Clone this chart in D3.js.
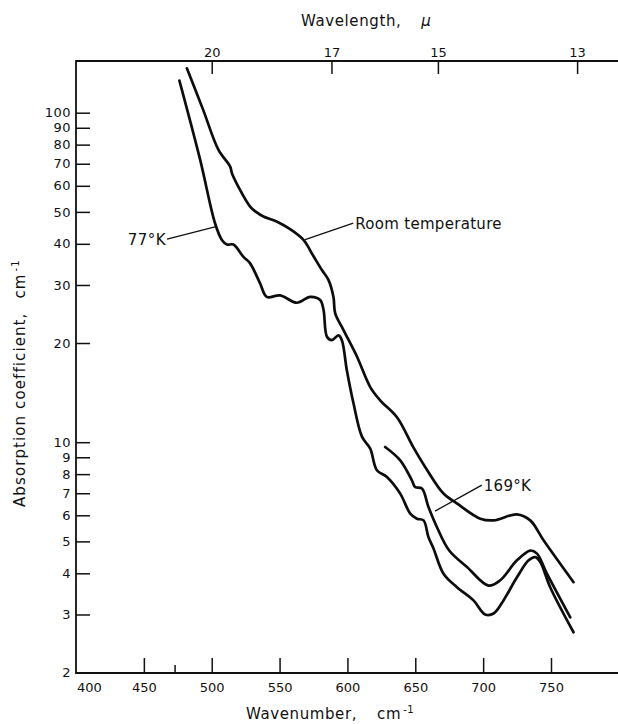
<!DOCTYPE html>
<html>
<head>
<meta charset="utf-8">
<script src="https://cdn.jsdelivr.net/npm/d3@7"></script>
<style>
  html, body { margin: 0; padding: 0; background: #fff; }
  svg { display: block; }
  text { font-family: "DejaVu Sans", sans-serif; fill: #111; }
</style>
</head>
<body>
<svg id="chart" width="618" height="724"></svg>
<script>
// wavenumber (cm-1), absorption coefficient (cm-1)
const roomTemp = [
  [481.7, 136.4], [493.7, 102], [505.0, 77.1], [513.6, 68.6], [515.1, 65.2],
  [528.3, 51.9], [532.7, 50.0], [538.1, 48.4], [548.2, 46.7], [557.8, 44.3],
  [567.6, 41.1], [574.8, 36.8], [581.2, 33.3], [586.0, 31.1], [589.7, 27.6],
  [591.0, 24.6], [597.1, 21.9], [607.0, 18.2], [616.8, 14.7], [624.1, 13.4],
  [636.5, 11.9], [648.5, 9.66], [658.8, 8.22], [670.6, 7.0], [680.9, 6.51],
  [697.9, 5.86], [707.7, 5.79], [724.9, 6.04], [734.7, 5.79], [744.5, 5.04],
  [766.6, 3.76]
];
const temp77 = [
  [476.2, 125.1], [491.5, 71.9], [502.5, 46.1], [507.5, 41.1], [511.2, 39.8],
  [516.0, 39.8], [523.4, 36.5], [528.3, 34.9], [535.7, 30.3], [540.6, 27.6],
  [550.4, 27.9], [562.7, 26.5], [572.5, 27.6], [579.9, 27.0], [582.4, 25.2],
  [584.9, 20.9], [588.5, 20.4], [593.4, 21.1], [595.9, 20.4], [599.6, 16.5],
  [604.5, 13.1], [610.7, 10.4], [616.8, 9.56], [621.7, 8.22], [629.1, 7.84],
  [638.9, 6.98], [646.3, 6.07], [651.2, 5.86], [656.1, 5.79], [659.7, 5.15],
  [663.4, 4.76], [670.8, 3.99], [680.7, 3.63], [692.9, 3.31], [701.5, 3.00],
  [707.7, 3.02], [715.0, 3.31], [724.9, 3.89], [733.5, 4.38], [738.4, 4.48],
  [742.1, 4.33], [749.4, 3.63], [766.6, 2.65]
];
const temp169 = [
  [627.8, 9.67], [638.9, 8.81], [647.5, 7.66], [649.9, 7.31], [654.9, 7.23],
  [659.7, 6.36], [665.9, 5.53], [675.0, 4.69], [688.1, 4.18], [704.0, 3.67],
  [712.6, 3.81], [724.9, 4.38], [734.7, 4.69], [739.7, 4.59], [747.0, 3.99],
  [764.2, 2.94]
];

const wavenumberTicks = [400, 450, 500, 550, 600, 650, 700, 750];
const absTicks = [2, 3, 4, 5, 6, 7, 8, 9, 10, 20, 30, 40, 50, 60, 70, 80, 90, 100];
const wavelengthTicks = [20, 17, 15, 13];

// labels: text, leader from (wavenumber, abs) to (wavenumber, abs)
const labels = [
  { text: '77°K', from: [467.1, 41.3], to: [502.4, 45.0], side: 'left' },
  { text: 'Room temperature', from: [568.8, 41.2], to: [604.3, 46.2], side: 'right' },
  { text: '169°K', from: [664.6, 6.18], to: [699.0, 7.41], side: 'right' }
];

const svg = d3.select('#chart');
const frameL = 76, frameR = 618, frameT = 61, frameB = 673;

const x = d3.scaleLinear().domain([400, 750]).range([76, 551]);
const y = d3.scaleLog().domain([2, 100]).range([672.5, 112.7]);

// frame
svg.append('path')
  .attr('d', `M${frameR},${frameT}H${frameL}V${frameB}H${frameR}`)
  .attr('fill', 'none').attr('stroke', '#111').attr('stroke-width', 1.8);

// left axis (log)
const yAxis = svg.append('g').attr('transform', `translate(${frameL},0)`)
  .call(d3.axisLeft(y).tickValues(absTicks).tickFormat(d3.format('d'))
    .tickSizeInner(-14).tickSizeOuter(0).tickPadding(5));
yAxis.select('.domain').remove();
yAxis.selectAll('line').attr('stroke', '#111').attr('stroke-width', 1.5)
  .filter(d => d === 2).remove();
yAxis.selectAll('text').attr('font-size', 13).attr('letter-spacing', 0.5)
  .style('font-family', '"DejaVu Sans", sans-serif').attr('fill', '#111');

// bottom axis
const xAxis = svg.append('g').attr('transform', `translate(0,${frameB})`)
  .call(d3.axisBottom(x).tickValues(wavenumberTicks).tickFormat(d3.format('d'))
    .tickSizeInner(-15).tickSizeOuter(0).tickPadding(10));
xAxis.select('.domain').remove();
xAxis.selectAll('line').attr('stroke', '#111').attr('stroke-width', 1.5)
  .filter(d => d === 400).remove();
xAxis.selectAll('text').attr('font-size', 13)
  .style('font-family', '"DejaVu Sans", sans-serif').attr('fill', '#111')
  .filter(d => d === 400).attr('dx', 13);
// extra small marks on the bottom edge
xAxis.selectAll('line.extra').data([473, 800]).enter().append('line')
  .attr('class', 'extra')
  .attr('x1', d => x(d)).attr('x2', d => x(d))
  .attr('y1', 0).attr('y2', d => d === 473 ? -8 : -12)
  .attr('stroke', '#111').attr('stroke-width', 1.5);

// top axis (wavelength, microns)
const topAxis = svg.append('g').attr('transform', `translate(0,${frameT})`)
  .call(d3.axisTop(x).tickValues(wavelengthTicks.map(l => 1e4 / l))
    .tickFormat((d, i) => wavelengthTicks[i])
    .tickSizeInner(-13).tickSizeOuter(0).tickPadding(4));
topAxis.select('.domain').remove();
topAxis.selectAll('line').attr('stroke', '#111').attr('stroke-width', 1.5);
topAxis.selectAll('text').attr('font-size', 13)
  .style('font-family', '"DejaVu Sans", sans-serif').attr('fill', '#111');

// axis titles
const bt = svg.append('text').attr('x', 246).attr('y', 719)
  .attr('font-size', 15).attr('letter-spacing', 0.6);
bt.append('tspan').text('Wavenumber,');
bt.append('tspan').attr('dx', 20).text('cm');
bt.append('tspan').attr('font-size', 10).attr('dy', -6).attr('dx', 2).text('-1');

const tt = svg.append('text').attr('x', 301).attr('y', 26)
  .attr('font-size', 15).attr('letter-spacing', 0.6);
tt.append('tspan').text('Wavelength,');
tt.append('tspan').attr('dx', 20).attr('font-style', 'italic').text('μ');

const lt = svg.append('text')
  .attr('transform', 'translate(25,507) rotate(-90)')
  .attr('font-size', 15).attr('letter-spacing', 1.1);
lt.append('tspan').text('Absorption  coefficient,');
lt.append('tspan').attr('dx', 14).text('cm');
lt.append('tspan').attr('font-size', 10).attr('dy', -6).attr('dx', 2).text('-1');

// curves
const line = d3.line()
  .x(d => x(d[0])).y(d => y(d[1]))
  .curve(d3.curveCatmullRom.alpha(0.5));

svg.append('g').selectAll('path')
  .data([roomTemp, temp77, temp169]).enter().append('path')
  .attr('d', line)
  .attr('fill', 'none').attr('stroke', '#0d0d0d')
  .attr('stroke-width', 2.7).attr('stroke-linejoin', 'round').attr('stroke-linecap', 'round');

// annotations
const ann = svg.append('g');
labels.forEach(l => {
  const x1 = x(l.from[0]), y1 = y(l.from[1]);
  const x2 = x(l.to[0]), y2 = y(l.to[1]);
  ann.append('line').attr('x1', x1).attr('y1', y1).attr('x2', x2).attr('y2', y2)
    .attr('stroke', '#111').attr('stroke-width', 1.3);
  if (l.side === 'left') {
    ann.append('text').attr('x', x1 - 1).attr('y', y1 + 6)
      .attr('text-anchor', 'end').attr('font-size', 15).attr('letter-spacing', 0.5).text(l.text);
  } else {
    ann.append('text').attr('x', x2 + 2).attr('y', y2 + 6)
      .attr('font-size', 15).attr('letter-spacing', 0.3).text(l.text);
  }
});
</script>
</body>
</html>
